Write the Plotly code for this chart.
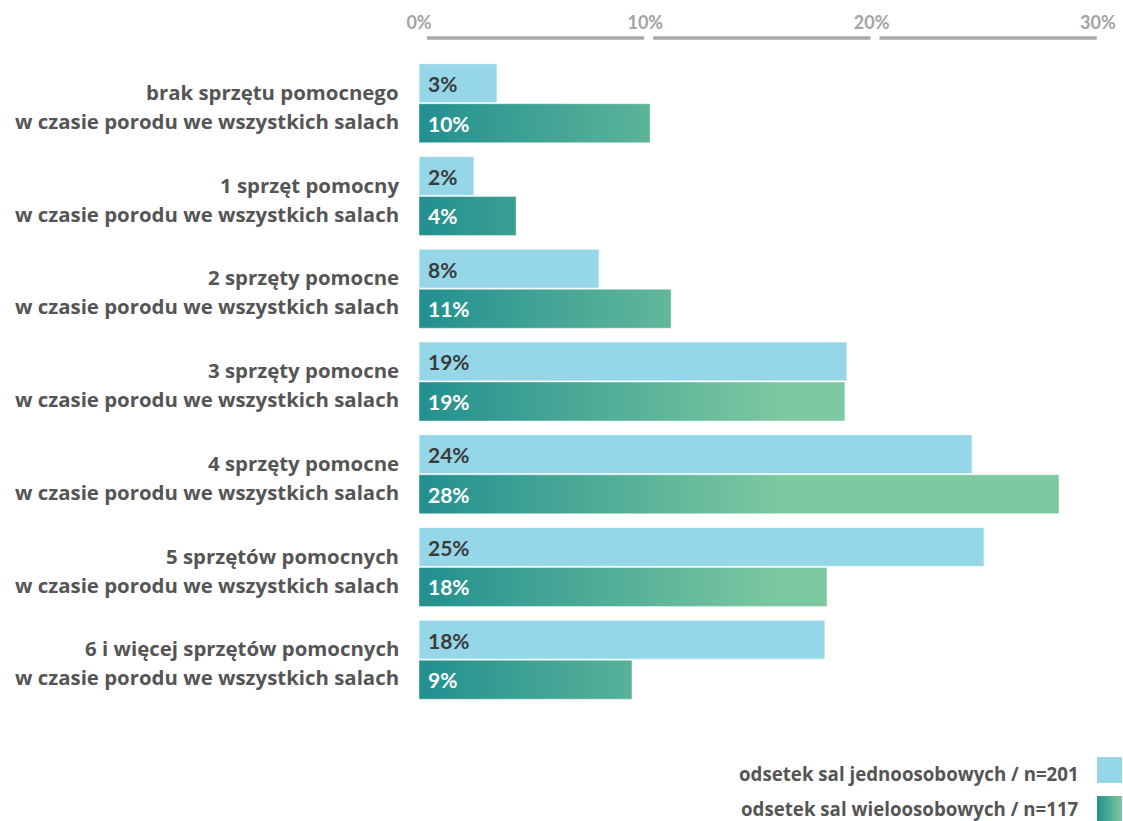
import plotly.graph_objects as go

# ---- data ----
categories = [
    "brak sprzętu pomocnego",
    "1 sprzęt pomocny",
    "2 sprzęty pomocne",
    "3 sprzęty pomocne",
    "4 sprzęty pomocne",
    "5 sprzętów pomocnych",
    "6 i więcej sprzętów pomocnych",
]
category_suffix = "w czasie porodu we wszystkich salach"
single_rooms = [3.45, 2.43, 7.96, 18.91, 24.44, 24.97, 17.94]   # odsetek sal jednoosobowych
multi_rooms = [10.21, 4.29, 11.14, 18.82, 28.28, 18.03, 9.41]   # odsetek sal wieloosobowych
series_names = ["odsetek sal jednoosobowych / n=201", "odsetek sal wieloosobowych / n=117"]
tick_values = [0, 10, 20, 30]
tick_labels = ["0%", "10%", "20%", "30%"]

# ---- style ----
LIGHT = "#95d7e8"
TEAL = "#22908f"
GREEN = "#7dc9a0"
LABEL_GREY = "#555555"
TICK_GREY = "#a3a3a3"
FONT = "Lato"
LABEL_FONT = "Open Sans"
BAR_H = 0.42

fig = go.Figure()

pos = list(range(len(categories)))

# series 1: plain bars (upper bar of each pair)
fig.add_trace(go.Bar(
    y=[p - BAR_H / 2 - 0.004 for p in pos], x=single_rooms, base=0,
    orientation="h", width=BAR_H,
    marker=dict(color=LIGHT, line=dict(color="rgba(255,255,255,0.7)", width=1)),
    name=series_names[0], showlegend=False, hoverinfo="x",
))

# series 2: bars with a horizontal gradient (filled polygons derived from values)
gx, gy = [], []
for p, v in zip(pos, multi_rooms):
    top, bot = p + 0.008, p + 0.008 + BAR_H
    gx += [0, v, v, 0, 0, None]
    gy += [top, top, bot, bot, top, None]
fig.add_trace(go.Scatter(
    x=gx, y=gy, mode="lines", fill="toself",
    line=dict(width=0.8, color="rgba(255,255,255,0.5)"),
    fillgradient=dict(type="horizontal", start=0, stop=16,
                      colorscale=[[0, TEAL], [1, GREEN]]),
    name=series_names[1], showlegend=False, hoverinfo="skip",
))

# legend gradient swatch on its own small axes
fig.add_trace(go.Scatter(
    x=[0, 1, 1, 0, 0], y=[0, 0, 1, 1, 0], mode="lines", fill="toself",
    line=dict(width=0),
    fillgradient=dict(type="horizontal", start=0, stop=1,
                      colorscale=[[0, TEAL], [1, GREEN]]),
    xaxis="x2", yaxis="y2", showlegend=False, hoverinfo="skip",
))

annotations = []
# value labels
for p, v in zip(pos, single_rooms):
    annotations.append(dict(x=0, y=p - BAR_H / 2, xref="x", yref="y", xanchor="left",
                            xshift=7, text=f"<b>{round(v)}%</b>", showarrow=False,
                            font=dict(family=FONT, size=21, color="#3b3b3b")))
for p, v in zip(pos, multi_rooms):
    annotations.append(dict(x=0, y=p + 0.008 + BAR_H / 2, xref="x", yref="y", xanchor="left",
                            xshift=7, text=f"<b>{round(v)}%</b>", showarrow=False,
                            font=dict(family=FONT, size=21, color="white")))
# category labels (two lines each)
for p, c in zip(pos, categories):
    annotations.append(dict(x=0, y=p - 0.119, xref="paper", yref="y", xanchor="right",
                            xshift=-18, text=f"<b>{c}</b>", showarrow=False,
                            font=dict(family=LABEL_FONT, size=20.4, color=LABEL_GREY)))
    annotations.append(dict(x=0, y=p + 0.194, xref="paper", yref="y", xanchor="right",
                            xshift=-18, text=f"<b>{category_suffix}</b>", showarrow=False,
                            font=dict(family=LABEL_FONT, size=20.4, color=LABEL_GREY)))
# legend texts
W, H = 704, 787  # plot area size in px
legend_y_px = [773, 808]
for name, ypx in zip(series_names, legend_y_px):
    annotations.append(dict(x=(1081 - 419) / W, y=(821 - ypx) / H, xref="paper", yref="paper",
                            xanchor="right", yanchor="middle", text=f"<b>{name}</b>",
                            showarrow=False,
                            font=dict(family=LABEL_FONT, size=18.7, color=LABEL_GREY)))

shapes = []
# top axis segments below tick labels
for a, b in zip(tick_values[:-1], tick_values[1:]):
    shapes.append(dict(type="line", xref="x", yref="y", x0=a + 0.35, x1=b - 0.05,
                       y0=-0.70, y1=-0.70, line=dict(color="#a8a8a8", width=3.5)))
# legend light swatch
shapes.append(dict(type="rect", xref="paper", yref="paper",
                   x0=(1097 - 419) / W, x1=(1122 - 419) / W,
                   y0=(821 - 783) / H, y1=(821 - 757) / H,
                   fillcolor=LIGHT, line=dict(width=0)))

fig.update_layout(
    width=1123, height=821,
    margin=dict(l=419, r=0, t=34, b=0),
    paper_bgcolor="white", plot_bgcolor="white",
    font=dict(family=FONT),
    xaxis=dict(range=[0, (1123 - 419) / 22.63], side="top",
               tickvals=tick_values, ticktext=[f"<b>{t}</b>" for t in tick_labels],
               tickfont=dict(family=FONT, size=18, color=TICK_GREY),
               showgrid=False, zeroline=False, showline=False, ticks=""),
    yaxis=dict(range=[718 / 92.75, -69 / 92.75], showgrid=False, zeroline=False,
               showline=False, showticklabels=False, ticks=""),
    xaxis2=dict(domain=[(1097 - 419) / W, (1122 - 419) / W], range=[0, 1], anchor="y2",
                visible=False, fixedrange=True),
    yaxis2=dict(domain=[0, (821 - 796) / H], range=[0, 1], anchor="x2",
                visible=False, fixedrange=True),
    annotations=annotations, shapes=shapes,
    showlegend=False,
)

fig.write_html("out.html", config={"displayModeBar": False},
               post_script="document.body.style.margin='0px';document.body.style.overflow='hidden';")
